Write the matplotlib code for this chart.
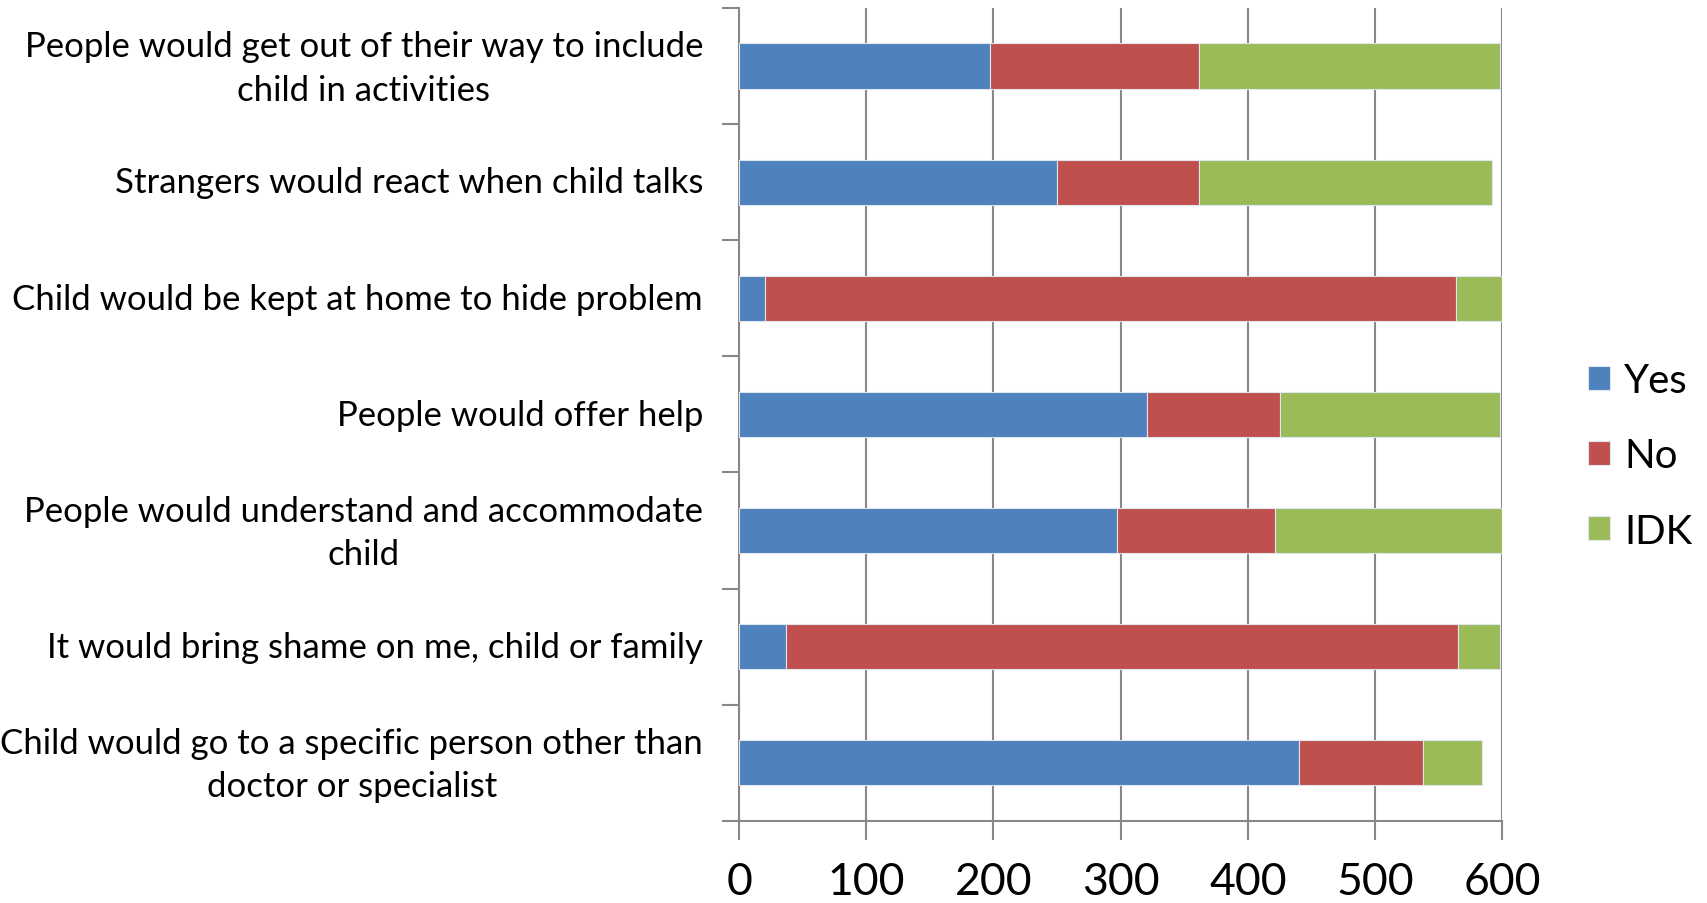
import matplotlib.pyplot as plt
import matplotlib.transforms as mtransforms
import numpy as np

plt.rcParams['font.family'] = ['Lato', 'DejaVu Sans']

categories = [
    'People would get out of their way to include\nchild in activities',
    'Strangers would react when child talks',
    'Child would be kept at home to hide problem',
    'People would offer help',
    'People would understand and accommodate\nchild',
    'It would bring shame on me, child or family',
    'Child would go to a specific person other than\ndoctor or specialist',
]
yes = [197, 250, 20, 321, 297, 37, 440]
no = [165, 112, 544, 104, 124, 528, 98]
idk = [236, 230, 36, 173, 179, 33, 46]
series_names = ['Yes', 'No', 'IDK']
colors = ['#4F81BD', '#C0504D', '#9BBB59']

fig = plt.figure(figsize=(17.07, 9.04), dpi=100)
ax = fig.add_axes([0.433, 0.091, 0.447, 0.899])

y = np.arange(len(categories))
left = np.zeros(len(categories))
for vals, name, col in zip([yes, no, idk], series_names, colors):
    ax.barh(y, vals, left=left, height=0.39, color=col, label=name,
            edgecolor='#dfe6f0', linewidth=0.8, zorder=3)
    left = left + np.array(vals)

ax.set_xlim(0, 600)
ax.set_ylim(len(categories) - 0.5, -0.5)
ax.set_xticks(range(0, 601, 100))
ax.tick_params(axis='x', labelsize=32, length=14, width=1.5, color='#888888', pad=15)

ax.set_yticks(y)
ax.set_yticklabels(categories, fontsize=25, multialignment='center', linespacing=1.45)
ax.tick_params(axis='y', which='major', length=0, pad=26)
# nudge the labels up a little so two-line labels sit on the bar centre
for lab in ax.get_yticklabels():
    dy = 5 if '\n' in lab.get_text() else 2
    lab.set_transform(lab.get_transform() +
                      mtransforms.ScaledTranslation(0, dy / 72, fig.dpi_scale_trans))
ax.set_yticks(np.arange(-0.5, len(categories)), minor=True)
ax.tick_params(axis='y', which='minor', length=12, width=1.5, color='#888888')

ax.grid(axis='x', color='#888888', linewidth=1.5, zorder=0)
ax.set_axisbelow(True)
for s in ['top', 'right']:
    ax.spines[s].set_visible(False)
for s in ['left', 'bottom']:
    ax.spines[s].set_color('#888888')
    ax.spines[s].set_linewidth(1.5)

ax.legend(loc='center left', bbox_to_anchor=(1.086, 0.449), frameon=False,
          fontsize=29, handlelength=0.55, handleheight=0.55, labelspacing=0.95,
          handletextpad=0.35, borderpad=0)

fig.savefig('out.png', dpi=100)
